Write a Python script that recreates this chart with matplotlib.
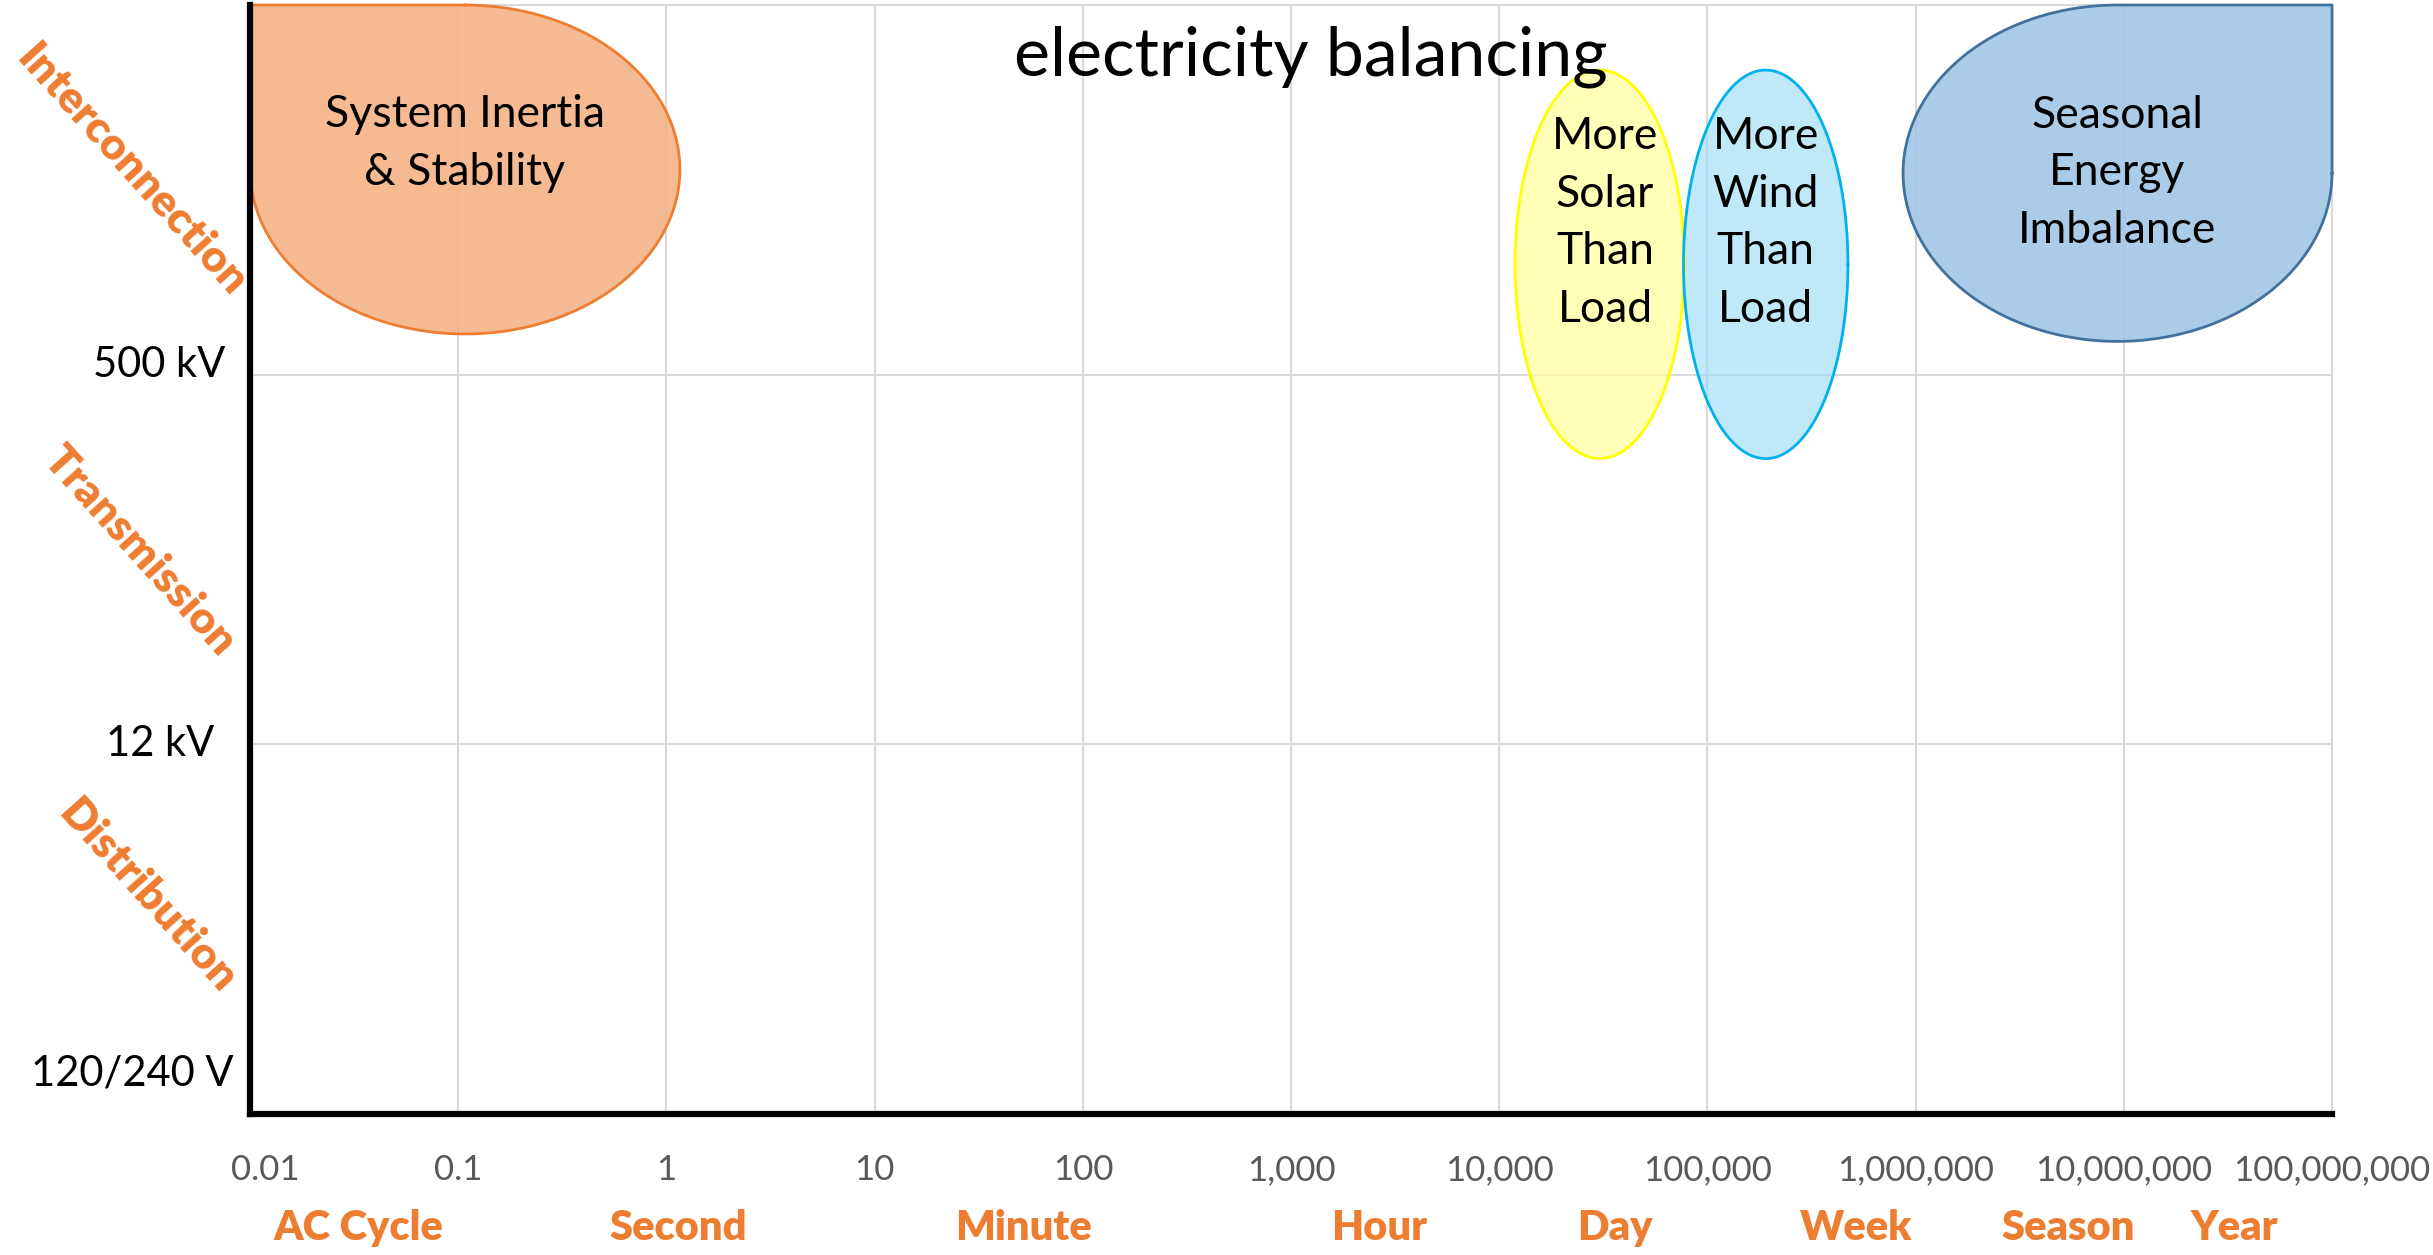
import numpy as np
import matplotlib
matplotlib.use("Agg")
import matplotlib.pyplot as plt
from matplotlib.transforms import ScaledTranslation, blended_transform_factory

plt.rcParams['font.family'] = ['Lato', 'DejaVu Sans']

# ---- data -------------------------------------------------------------
# time axis (seconds, log scale)
x_ticks = [1e-2, 1e-1, 1e0, 1e1, 1e2, 1e3, 1e4, 1e5, 1e6, 1e7, 1e8]
x_tick_labels = ["0.01", "0.1", "1", "10", "100", "1,000", "10,000",
                 "100,000", "1,000,000", "10,000,000", "100,000,000"]

# named time scales and where their labels sit (seconds)
time_names = ["AC Cycle", "Second", "Minute", "Hour", "Day", "Week", "Season", "Year"]
time_label_x = [0.033, 1.14, 52, 2660, 36000, 5.15e5, 5.4e6, 3.4e7]

# voltage levels
level_names = ["120/240 V", "12 kV", "500 kV"]
level_values = [0, 1, 2]
grid_names = ["Distribution", "Transmission", "Interconnection"]

# balancing phenomena: time span (s) and voltage-level span
phen_names = ["System Inertia\n& Stability", "More\nSolar\nThan\nLoad",
              "More\nWind\nThan\nLoad", "Seasonal\nEnergy\nImbalance"]
phen_t_lo = [0.01, 1.19e4, 7.67e4, 8.7e5]
phen_t_hi = [1.16, 7.75e4, 4.73e5, 1.0e8]
phen_v_lo = [2.11, 1.773, 1.773, 2.09]
phen_v_hi = [3.0, 2.824, 2.824, 3.0]
# which corner of the bounding box stays square (None = plain ellipse)
phen_corner = ["top-left", None, None, "top-right"]

# ---- styles -----------------------------------------------------------
face_colors = ["#F4B183", "#FFFF99", "#9DDCF5", "#9DC3E6"]
face_alpha = [0.88, 0.70, 0.65, 0.85]
edge_colors = ["#ED7D31", "#FFFF00", "#00B0F0", "#41719C"]
text_y = [2.625, 2.41, 2.41, 2.546]
text_dx = [1.0, 1.06, 1.0, 1.0]
ORANGE = "#ED7D31"


def shape_outline(t_lo, t_hi, v_lo, v_hi, corner, n=240):
    """Outline of an ellipse drawn in log-time space, optionally with one
    square corner, returned in seconds / level units."""
    lx0, lx1 = np.log10(t_lo), np.log10(t_hi)
    cx, a = (lx0 + lx1) / 2, (lx1 - lx0) / 2
    cy, b = (v_lo + v_hi) / 2, (v_hi - v_lo) / 2
    if corner is None:
        th = np.linspace(0, 2 * np.pi, n)
        xs, ys = cx + a * np.cos(th), cy + b * np.sin(th)
    elif corner == "top-left":
        th = np.linspace(np.pi / 2, -np.pi, n)
        xs = np.r_[cx + a * np.cos(th), cx - a, cx]
        ys = np.r_[cy + b * np.sin(th), cy + b, cy + b]
    else:  # top-right
        th = np.linspace(0, -1.5 * np.pi, n)
        xs = np.r_[cx + a * np.cos(th), cx + a, cx + a]
        ys = np.r_[cy + b * np.sin(th), cy + b, cy]
    return 10 ** xs, ys, 10 ** cx


fig = plt.figure(figsize=(24.33, 12.55), dpi=100)
ax = fig.add_axes([0.1028, 0.1124, 0.8557, 0.8836])
ax.set_xscale("log")
ax.set_xlim(1e-2, 1e8)
ax.set_ylim(0, 3)

ax.set_xticks(x_ticks)
ax.set_xticklabels(x_tick_labels)
ax.minorticks_off()
ax.set_yticks([1, 2, 3])
ax.set_yticklabels([])
ax.tick_params(axis="both", length=0)
ax.tick_params(axis="x", pad=29, labelsize=25, labelcolor="#595959")
ax.grid(True, color="#D9D9D9", linewidth=1.5)
ax.set_axisbelow(True)

# nudge the first time label off the corner
first = ax.get_xticklabels()[0]
first.set_transform(first.get_transform() + ScaledTranslation(0.15, 0, fig.dpi_scale_trans))

for side in ("top", "right"):
    ax.spines[side].set_color("#D9D9D9")
    ax.spines[side].set_linewidth(1.5)
for side in ("left", "bottom"):
    ax.spines[side].set_color("black")
    ax.spines[side].set_linewidth(4.5)
    ax.spines[side].set_zorder(5)

# phenomena shapes
for i, name in enumerate(phen_names):
    xs, ys, xc = shape_outline(phen_t_lo[i], phen_t_hi[i],
                               phen_v_lo[i], phen_v_hi[i], phen_corner[i])
    ax.fill(xs, ys, facecolor=face_colors[i], alpha=face_alpha[i],
            edgecolor="none", zorder=2, clip_on=False)
    ax.plot(xs, ys, color=edge_colors[i], linewidth=2, zorder=3, clip_on=False)
    ax.text(xc * text_dx[i], text_y[i], name, ha="center", va="center",
            fontsize=32, linespacing=1.5, color="black", zorder=4)

# title inside the plot area
ax.text(0.5097, 0.953, "electricity balancing", transform=ax.transAxes,
        ha="center", va="center", fontsize=49, color="black")

# voltage level labels
lvl_y = [0.109, 1.0, 2.025]
lvl_x = [-0.0082, -0.017, -0.0119]
ytrans = blended_transform_factory(ax.transAxes, ax.transData)
for name, yv, xo in zip(level_names, lvl_y, lvl_x):
    ax.text(xo, yv, name, transform=ytrans, ha="right", va="center",
            fontsize=30, color="black")

# grid category labels, slanted
cat_pos = [(0.0606, 0.2855), (0.0574, 0.561), (0.0542, 0.864)]
for name, (fx, fy) in zip(grid_names, cat_pos):
    fig.text(fx, fy, name, ha="center", va="center", rotation=-48,
             rotation_mode="anchor", fontsize=32, fontweight="heavy", color=ORANGE)

# time scale labels
xtrans = blended_transform_factory(ax.transData, ax.transAxes)
for name, xv in zip(time_names, time_label_x):
    ax.text(xv, -0.103, name, transform=xtrans, ha="center", va="center",
            fontsize=30, fontweight="heavy", color=ORANGE, clip_on=False)

fig.savefig("out.png", dpi=100)
